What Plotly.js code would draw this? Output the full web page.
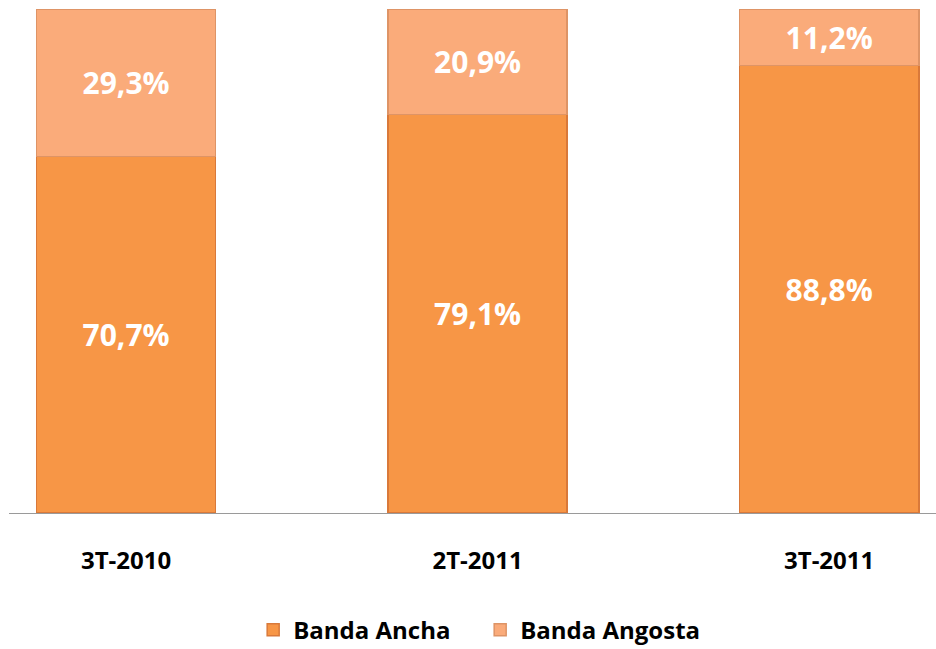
<!DOCTYPE html>
<html>
<head>
<meta charset="utf-8">
<script src="https://cdn.plot.ly/plotly-3.0.1.min.js"></script>
<style>html,body{margin:0;padding:0;background:#fff;}#chart{width:936px;height:649px;}</style>
</head>
<body>
<div id="chart"></div>
<script>
var categories = ['3T-2010', '2T-2011', '3T-2011'];
var bandaAncha = [70.7, 79.1, 88.8];
var bandaAngosta = [29.3, 20.9, 11.2];
var seriesNames = ['Banda Ancha', 'Banda Angosta'];

var labelFont = {family: 'Open Sans, sans-serif', size: 30, color: '#ffffff', weight: 'bold'};

var traces = [
  {
    type: 'bar', name: seriesNames[0], x: categories, y: bandaAncha,
    width: 0.51,
    marker: {color: '#F79646', line: {color: '#D9793A', width: 1.5}},
    texttemplate: '<b>%{y:.1f}%</b>', textposition: 'inside', insidetextanchor: 'middle',
    textfont: labelFont, constraintext: 'none', hoverinfo: 'skip'
  },
  {
    type: 'bar', name: seriesNames[1], x: categories, y: bandaAngosta,
    width: 0.51,
    marker: {color: '#FAAB7A', line: {color: '#DE9466', width: 1.5}},
    texttemplate: '<b>%{y:.1f}%</b>', textposition: 'inside', insidetextanchor: 'middle',
    textfont: labelFont, constraintext: 'none', hoverinfo: 'skip'
  }
];

var layout = {
  width: 936, height: 649,
  margin: {l: 9, r: 0, t: 9, b: 136, autoexpand: false},
  paper_bgcolor: '#ffffff', plot_bgcolor: '#ffffff',
  barmode: 'stack',
  separators: ',.',
  showlegend: true,
  legend: {
    orientation: 'h', x: 0.513, xref: 'container', xanchor: 'center',
    y: 0.029, yref: 'container', yanchor: 'middle',
    traceorder: 'normal',
    font: {family: 'Open Sans, sans-serif', size: 24, color: '#000000', weight: 'bold'},
    itemwidth: 30,
    entrywidth: 182
  },
  xaxis: {
    type: 'category',
    range: [-0.333, 2.304],
    automargin: false,
    showline: true, linecolor: '#9a9a9a', linewidth: 1,
    showgrid: false, zeroline: false, ticks: '',
    ticklabelstandoff: 26,
    tickfont: {family: 'Open Sans, sans-serif', size: 24, color: '#000000', weight: 'bold'}
  },
  yaxis: {
    range: [0, 100], visible: false, showgrid: false, zeroline: false, automargin: false
  }
};

Plotly.newPlot('chart', traces, layout, {displayModeBar: false, staticPlot: true});
</script>
</body>
</html>
